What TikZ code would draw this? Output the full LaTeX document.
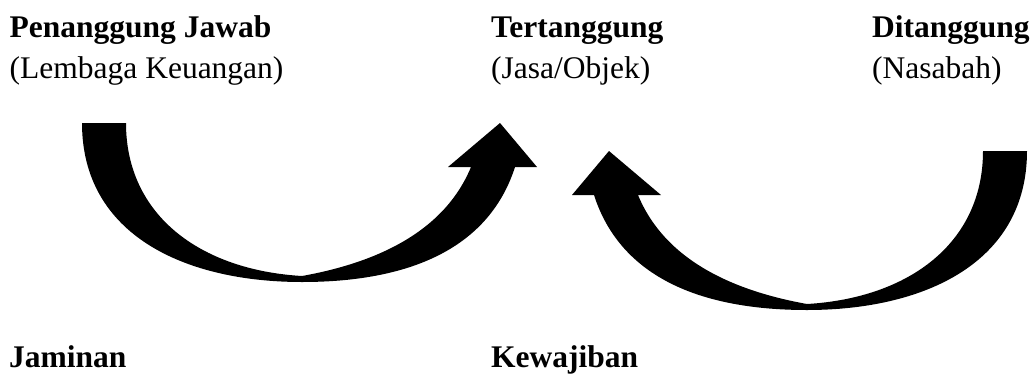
\documentclass[tikz,border=0pt]{standalone}
\usepackage{fontspec}
\setmainfont{Liberation Serif}
\begin{document}
\begin{tikzpicture}[x=1pt,y=1pt,
  label/.style={inner sep=0pt,anchor=base west,font=\fontsize{31.5}{38}\selectfont},
  title/.style={label,font=\fontsize{31.5}{38}\selectfont\bfseries},
  curvedarrow/.pic={
    % thick U-shaped arrow, origin at the lowest point of the outer edge
    \fill[black]
      (-220,159) .. controls (-220,47) and (-117,0) .. (0,0)
      .. controls (113,0) and (188,37) .. (213,115)
      -- (235,115) -- (198,159) -- (146,115) -- (169,115)
      .. controls (143,52) and (78,20) .. (0,6)
      .. controls (-102,12) and (-176,67) .. (-176,159)
      -- cycle;
  }]
\useasboundingbox (0,0) rectangle (1034,-373);

% column headings
\node[title] (pj)  at (9.5,-37) {Penanggung Jawab};
\node[label] (lk)  at (9.5,-78) {(Lembaga Keuangan)};
\node[title] (tt)  at (491,-37) {Tertanggung};
\node[label] (jo)  at (491,-78) {(Jasa/Objek)};
\node[title] (dt)  at (872,-37) {Ditanggung};
\node[label] (ns)  at (872,-78) {(Nasabah)};

% curved arrows
\pic at (302,-282) {curvedarrow};
\pic[xscale=-1] at (807,-310) {curvedarrow};

% bottom labels
\node[title] (jm) at (9,-367) {Jaminan};
\node[title] (kw) at (491,-367) {Kewajiban};
\end{tikzpicture}
\end{document}
